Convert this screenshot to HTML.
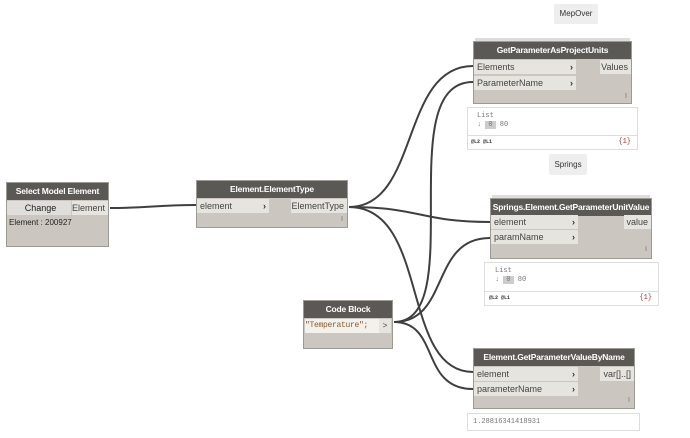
<!DOCTYPE html>
<html><head><meta charset="utf-8"><style>
body{margin:0;width:690px;height:438px;background:#fff;position:relative;overflow:hidden;font-family:"Liberation Sans","DejaVu Sans",sans-serif;}
.a{position:absolute;box-sizing:border-box;}
.node{background:#cbc7c0;border:1px solid #9d9a94;}
.hd{background:#5b5955;color:#fff;font-weight:bold;font-size:8.5px;letter-spacing:-0.2px;white-space:nowrap;overflow:hidden;text-align:center;line-height:17px;position:absolute;left:0;right:0;top:0;height:17px;}
.in{background:#e6e4df;color:#444;font-size:9px;line-height:14px;padding-left:3px;position:absolute;height:14px;box-sizing:border-box;}
.in b{position:absolute;right:3px;top:0;font-size:9px;color:#333;}
.out{background:#e6e4df;color:#444;font-size:9px;line-height:14px;text-align:right;padding-right:3px;position:absolute;height:14px;right:0;white-space:nowrap;box-sizing:border-box;}
.bar{position:absolute;right:4px;font-size:7px;color:#777;}
.prev{background:#fff;border:1px solid #ddd;font-family:"Liberation Mono",monospace;font-size:7px;color:#777;}
.lbl{background:#eeeeee;font-size:8px;color:#333;text-align:center;border-radius:2px;}
</style></head><body>
<svg class="a" style="left:0;top:0" width="690" height="438">
<g fill="none" stroke="#3f3f3f" stroke-width="2">
<path d="M110 208 C150 208,156 205,196 205"/>
<path d="M349 207 C420 207,400 66,473 66"/>
<path d="M349 207 C420 207,420 222,490 222"/>
<path d="M349 207 C430 207,400 372,473 372"/>
<path d="M394 322 C470 322,390 82,473 82"/>
<path d="M394 322 C450 322,430 238,490 238"/>
<path d="M394 322 C440 322,420 389,473 389"/>
</g></svg>

<div class="a lbl" style="left:554px;top:4px;width:44px;height:20px;line-height:20px">MepOver</div>
<div class="a lbl" style="left:549px;top:154px;width:38px;height:21px;line-height:21px">Springs</div>

<div class="a node" style="left:6px;top:182px;width:103px;height:65px">
<div class="hd">Select Model Element</div>
<div class="in" style="left:0;top:18px;width:64px;text-align:center;background:#e0deda;color:#222">Change</div>
<div class="out" style="top:18px;width:36px">Element</div>
<div class="a" style="left:2px;top:35px;font-size:8px;color:#222">Element : 200927</div>
</div>

<div class="a node" style="left:196px;top:180px;width:152px;height:48px">
<div class="hd">Element.ElementType</div>
<div class="in" style="left:0;top:18px;width:72px">element<b>›</b></div>
<div class="out" style="top:18px;width:56px">ElementType</div>
<div class="bar" style="top:35px">I</div>
</div>

<div class="a" style="left:475px;top:38px;width:155px;height:3px;background:#ddd"></div>
<div class="a node" style="left:473px;top:41px;width:159px;height:63px">
<div class="hd">GetParameterAsProjectUnits</div>
<div class="in" style="left:0;top:18px;width:102px">Elements<b>›</b></div>
<div class="in" style="left:0;top:34px;width:102px">ParameterName<b>›</b></div>
<div class="out" style="top:18px;width:31px">Values</div>
<div class="bar" style="top:51px">I</div>
</div>
<div class="a prev" style="left:467px;top:107px;width:171px;height:43px">
<div class="a" style="left:9px;top:4px">List</div>
<div class="a" style="left:9px;top:13px">↓ <span style="background:#ccc;padding:0 3px">0</span> 80</div>
<div class="a" style="left:0;right:0;top:27px;border-top:1px solid #ddd"></div>
<div class="a" style="left:3px;top:31px;font-size:5px;color:#333;font-weight:bold">@L2 @L1</div>
<div class="a" style="right:6px;top:30px;color:#a33">{1}</div>
</div>

<div class="a" style="left:492px;top:195px;width:158px;height:3px;background:#ddd"></div>
<div class="a node" style="left:490px;top:198px;width:162px;height:61px">
<div class="hd">Springs.Element.GetParameterUnitValue</div>
<div class="in" style="left:0;top:16px;width:87px">element<b>›</b></div>
<div class="in" style="left:0;top:31px;width:87px">paramName<b>›</b></div>
<div class="out" style="top:16px;width:27px">value</div>
<div class="bar" style="top:47px">I</div>
</div>
<div class="a prev" style="left:484px;top:262px;width:175px;height:44px">
<div class="a" style="left:10px;top:4px">List</div>
<div class="a" style="left:10px;top:13px">↓ <span style="background:#ccc;padding:0 3px">0</span> 80</div>
<div class="a" style="left:0;right:0;top:28px;border-top:1px solid #ddd"></div>
<div class="a" style="left:4px;top:32px;font-size:5px;color:#333;font-weight:bold">@L2 @L1</div>
<div class="a" style="right:6px;top:31px;color:#a33">{1}</div>
</div>

<div class="a node" style="left:303px;top:300px;width:90px;height:49px">
<div class="hd">Code Block</div>
<div class="a" style="left:1px;top:18px;width:74px;height:14px;background:#f3f1ec;font-family:'Liberation Mono',monospace;font-size:8px;letter-spacing:-0.3px;line-height:14px;color:#8a5a2a;white-space:nowrap;overflow:hidden">"Temperature";</div>
<div class="out" style="right:1px;top:18px;width:12px;text-align:center;padding:0;font-size:8px">&gt;</div>
</div>

<div class="a node" style="left:473px;top:348px;width:162px;height:61px">
<div class="hd">Element.GetParameterValueByName</div>
<div class="in" style="left:0;top:18px;width:104px">element<b>›</b></div>
<div class="in" style="left:0;top:33px;width:104px">parameterName<b>›</b></div>
<div class="out" style="top:18px;width:34px">var[]..[]</div>
<div class="bar" style="top:48px">I</div>
</div>
<div class="a prev" style="left:467px;top:413px;width:173px;height:18px;line-height:16px;padding-left:5px">1.28816341418931</div>
</body></html>
